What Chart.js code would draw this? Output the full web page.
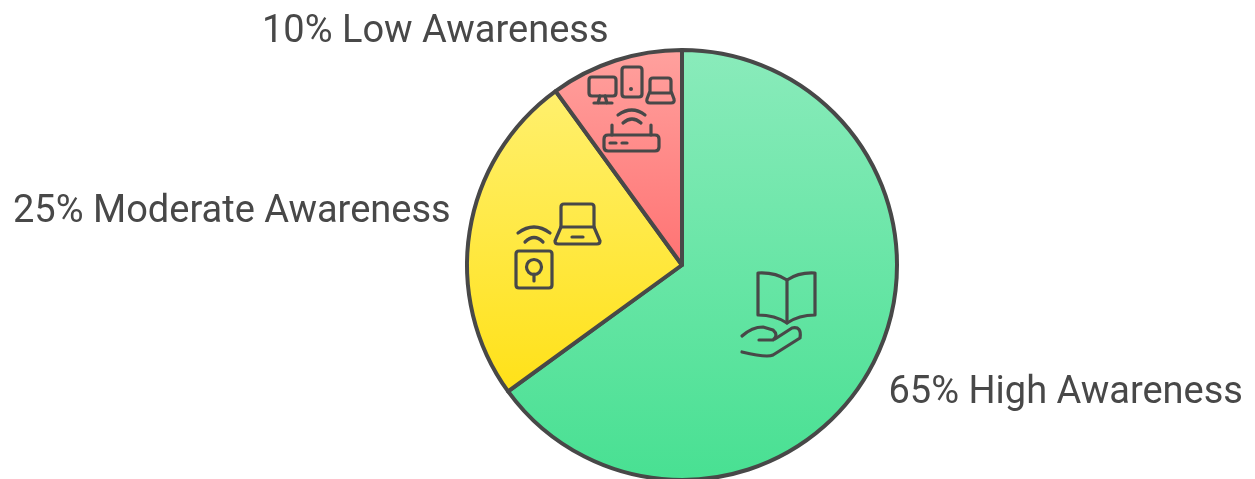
<!DOCTYPE html>
<html>
<head>
<meta charset="utf-8">
<title>Awareness</title>
<script src="https://cdn.jsdelivr.net/npm/chart.js@4"></script>
<style>
  html, body { margin:0; padding:0; background:#fff; overflow:hidden; }
  #wrap { position:relative; width:1255px; height:479px; overflow:hidden; }
  #pie { position:absolute; left:0; top:0; }
</style>
</head>
<body>
<div id="wrap"><canvas id="pie" width="1255" height="490"></canvas></div>
<script>
var categories = ['High Awareness', 'Moderate Awareness', 'Low Awareness'];
var shares = [65, 25, 10];
var colorsTop = ['#8aebbb', '#fff06e', '#ffa19e'];
var colorsBottom = ['#48e092', '#ffe118', '#ff7373'];
var labelX = [888.5, 13, 262];
var labelY = [403, 222, 42];

var INK = '#484848';

// each slice gets a vertical gradient over its own height
function sliceGradient(c){
  var chart = c.chart, area = chart.chartArea;
  if (!area) return colorsBottom[c.dataIndex];
  var cy = (area.top + area.bottom)/2;
  var r = Math.min(area.right - area.left, area.bottom - area.top)/2;
  var total = 0, before = 0, i;
  for (i=0;i<shares.length;i++){
    total += shares[i];
    if (i < c.dataIndex) before += shares[i];
  }
  var start = before/total*Math.PI*2 - Math.PI/2;
  var end = (before + shares[c.dataIndex])/total*Math.PI*2 - Math.PI/2;
  var ys = [cy, cy + r*Math.sin(start), cy + r*Math.sin(end)];
  var a;
  for (a = -Math.PI*2.5; a <= Math.PI*2.5; a += Math.PI) {
    if (a > start && a < end) ys.push(cy + r*Math.sin(a));
  }
  var g = chart.ctx.createLinearGradient(0, Math.min.apply(null, ys), 0, Math.max.apply(null, ys));
  g.addColorStop(0, colorsTop[c.dataIndex]);
  g.addColorStop(1, colorsBottom[c.dataIndex]);
  return g;
}

function stroke(ctx, d){ ctx.stroke(new Path2D(d)); }

function drawIcons(ctx){
  // devices and router on the red slice
  stroke(ctx, 'M592 77H613Q616 77 616 80V93Q616 96 613 96H592Q589 96 589 93V80Q589 77 592 77Z');
  stroke(ctx, 'M600 96L598 103M605 96L607 103M594 103H612');
  stroke(ctx, 'M625 67H639Q642 67 642 70V94Q642 97 639 97H625Q622 97 622 94V70Q622 67 625 67Z');
  stroke(ctx, 'M653 78H668Q671 78 671 81V91L674 99Q675 103 671 103H650Q646 103 647 99L650 91V81Q650 78 653 78ZM650 93H671');
  stroke(ctx, 'M608 135H655Q659 135 659 139V147Q659 151 655 151H608Q604 151 604 147V139Q604 135 608 135Z');
  stroke(ctx, 'M612 135V125M651 135V125M610 143H616M622 143H627');
  stroke(ctx, 'M618 115Q632 105 645 115M623 123Q632 115 641 123');
  ctx.beginPath(); ctx.arc(631, 89, 2, 0, Math.PI*2); ctx.fillStyle = INK; ctx.fill();

  // laptop and lock on the yellow slice
  stroke(ctx, 'M564 204H591Q594 204 594 207V227H561V207Q561 204 564 204Z');
  stroke(ctx, 'M561 227L555 241Q555 244 558 244H597Q600 244 600 241L594 227M572 237H583');
  stroke(ctx, 'M518 233Q534 221 550 233M525 242Q534 233 543 242');
  stroke(ctx, 'M519 251H549Q552 251 552 254V285Q552 288 549 288H519Q516 288 516 285V254Q516 251 519 251Z');
  stroke(ctx, 'M534 274V281');
  ctx.beginPath(); ctx.arc(534, 267, 7.5, 0, Math.PI*2); ctx.stroke();

  // open book and hand on the green slice
  stroke(ctx, 'M758 273Q775 272 787 280Q799 272 815 273V315Q799 315 787 323Q775 315 758 315Z');
  stroke(ctx, 'M787 280V323');
  stroke(ctx, 'M742 336Q752 327 763 327L773 330Q779 335 773 340H759');
  stroke(ctx, 'M775 339L792 328Q802 326 800 338L773 355Q767 358 742 352');
}

var decorations = {
  id: 'decorations',
  afterDatasetsDraw: function(chart){
    var ctx = chart.ctx;
    ctx.save();
    ctx.strokeStyle = INK;
    ctx.lineWidth = 3.2;
    ctx.lineCap = 'round';
    ctx.lineJoin = 'round';
    drawIcons(ctx);

    ctx.fillStyle = INK;
    ctx.font = '38px Roboto';
    ctx.textBaseline = 'alphabetic';
    for (var i=0;i<categories.length;i++){
      ctx.fillText(shares[i] + '% ' + categories[i], labelX[i], labelY[i]);
    }
    ctx.restore();
  }
};

new Chart(document.getElementById('pie'), {
  type:'pie',
  data:{ labels: categories, datasets:[{
    data: shares,
    backgroundColor: sliceGradient,
    borderColor: INK,
    borderWidth: 4,
    borderJoinStyle: 'round'
  }]},
  options:{
    responsive:false,
    animation:false,
    layout:{ padding:{ left:465, right:356, top:48, bottom:8 } },
    plugins:{ legend:{display:false}, tooltip:{enabled:false} }
  },
  plugins:[decorations]
});
</script>
</body>
</html>
